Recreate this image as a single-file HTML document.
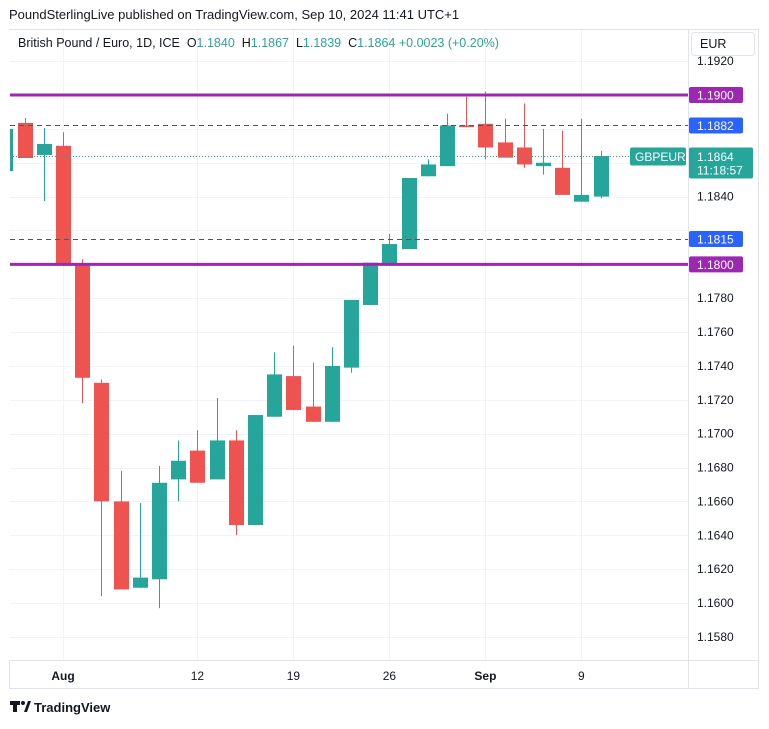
<!DOCTYPE html>
<html><head><meta charset="utf-8"><style>
body{margin:0;background:#fff;font-family:"Liberation Sans",sans-serif;}
svg text{font-family:"Liberation Sans",sans-serif;white-space:pre;}
</style></head><body>
<svg id="c" width="769" height="724" xmlns="http://www.w3.org/2000/svg">
<text x="9" y="19" font-size="13" fill="#131722">PoundSterlingLive published on TradingView.com, Sep 10, 2024 11:41 UTC+1</text>
<rect x="9.5" y="29.5" width="749" height="659" fill="none" stroke="#e0e3eb"/>
<line x1="688.5" y1="30" x2="688.5" y2="688" stroke="#e0e3eb"/>
<line x1="10" y1="660.5" x2="758" y2="660.5" stroke="#e0e3eb"/>
<g id="grid"></g><g id="candles"></g><g id="lines"></g><g id="axis"></g><g id="labels"></g>
<text x="18" y="47" font-size="12.5" fill="#131722">British Pound / Euro, 1D, ICE  O<tspan fill="#26a69a">1.1840</tspan>  H<tspan fill="#26a69a">1.1867</tspan>  L<tspan fill="#26a69a">1.1839</tspan>  C<tspan fill="#26a69a">1.1864</tspan> <tspan fill="#26a69a">+0.0023 (+0.20%)</tspan></text>
<rect x="691.5" y="32.5" width="63" height="23" rx="3" fill="#fff" stroke="#e0e3eb"/>
<text x="700" y="48" font-size="12.5" fill="#131722">EUR</text>
<g><rect x="10" y="701" width="10" height="4" fill="#131722"/><rect x="13" y="701" width="4" height="11" fill="#131722"/><circle cx="23" cy="703" r="2" fill="#131722"/><path d="M24 712 L28 701 L31 701 L27 712Z" fill="#131722"/>
<text x="34" y="712" font-size="13" font-weight="bold" fill="#131722">TradingView</text></g>
</svg>
<script>
const dates=["Jul29","Jul30","Jul31","Aug1","Aug2","Aug5","Aug6","Aug7","Aug8","Aug9","Aug12","Aug13","Aug14","Aug15","Aug16","Aug19","Aug20","Aug21","Aug22","Aug23","Aug26","Aug27","Aug28","Aug29","Aug30","Sep2","Sep3","Sep4","Sep5","Sep6","Sep9","Sep10"];
const opens=[1.1855,1.18835,1.18646,1.1870,1.1800,1.1730,1.1660,1.1609,1.1614,1.1673,1.1690,1.1673,1.1696,1.1646,1.1710,1.1734,1.1716,1.1707,1.1739,1.1776,1.1800,1.1809,1.1852,1.1858,1.1882,1.1883,1.1872,1.1869,1.1858,1.1857,1.1837,1.1840];
const highs=[1.1885,1.18864,1.18805,1.1878,1.1803,1.1732,1.1678,1.1659,1.1681,1.1696,1.1702,1.1721,1.1702,1.1711,1.1748,1.1752,1.1742,1.1751,1.1739,1.1801,1.1818,1.1831,1.1862,1.1889,1.1899,1.1902,1.1886,1.1895,1.1880,1.1879,1.1886,1.1867];
const lows=[1.1850,1.18628,1.18374,1.1799,1.1718,1.1604,1.1608,1.1609,1.1597,1.1660,1.1671,1.1673,1.1640,1.1646,1.1710,1.1714,1.1707,1.1707,1.1736,1.1776,1.1800,1.1809,1.1852,1.1858,1.1881,1.1862,1.1863,1.1857,1.1853,1.1841,1.1837,1.1839];
const closes=[1.1880,1.18628,1.18711,1.1800,1.1733,1.1660,1.1608,1.1615,1.1671,1.1684,1.1671,1.1696,1.1646,1.1711,1.1735,1.1714,1.1707,1.1740,1.1779,1.1801,1.1812,1.1851,1.1859,1.1882,1.1881,1.1869,1.1863,1.1859,1.1860,1.1841,1.1841,1.1864];
const priceTicks=[1.1580,1.1600,1.1620,1.1640,1.1660,1.1680,1.1700,1.1720,1.1740,1.1760,1.1780,1.1800,1.1820,1.1840,1.1860,1.1880,1.1900,1.1920];
const timeLabels=["Aug","12","19","26","Sep","9"];
const timeIdx=[3,10,15,20,25,30];
const levels=[1.1900,1.1800];
const dashedLevels=[1.1882,1.1815];
const lastPrice=1.1864;
const NS="http://www.w3.org/2000/svg";
const y=p=>603-(p-1.16)*16933;
const x=i=>63+(i-3)*19.2;
function el(t,a,parent){const e=document.createElementNS(NS,t);for(const k in a)e.setAttribute(k,a[k]);document.getElementById(parent).appendChild(e);return e;}
const labelPrices=levels.concat(dashedLevels,[lastPrice]);
priceTicks.forEach(p=>{
 if(y(p)>38){const g=el('line',{x1:10,x2:688,y1:Math.round(y(p))+0.5,y2:Math.round(y(p))+0.5,stroke:'#f0f3fa'},'grid');
 
 }
 if(labelPrices.some(q=>Math.abs(y(q)-y(p))<16)) return;
 const t=el('text',{x:697,y:y(p)+4,'font-size':12,fill:'#131722'},'axis');t.textContent=p.toFixed(4);
 
 
});
timeIdx.forEach((ix,k)=>{
 el('line',{x1:Math.round(x(ix))+0.5,x2:Math.round(x(ix))+0.5,y1:30,y2:660,stroke:'#f0f3fa'},'grid');
 const t=el('text',{x:x(ix),y:680,'font-size':12,fill:'#131722','text-anchor':'middle','font-weight':(k==0||k==4)?'bold':'normal'},'axis');t.textContent=timeLabels[k];
 
 
});
dates.forEach((d,i)=>{
 const up=closes[i]>=opens[i];const col=up?'#26a69a':'#ef5350';const cx=Math.round(x(i));
 const w=el('line',{x1:cx+0.5,x2:cx+0.5,y1:y(highs[i]),y2:y(lows[i]),stroke:col},'candles');
 
 
 const top=y(Math.max(opens[i],closes[i])),bot=y(Math.min(opens[i],closes[i]));
 const r=el('rect',{x:cx-7,y:top,width:15,height:Math.max(1,bot-top),fill:col},'candles');
 
 
});
el('rect',{x:0,y:30,width:10,height:630,fill:'#fff'},'candles');
levels.forEach(p=>{
 const l=el('line',{x1:10,x2:688,y1:y(p),y2:y(p),stroke:'#9c27b0','stroke-width':3},'lines');
 
 
 el('rect',{x:689,y:y(p)-8,width:54,height:16,rx:2,fill:'#9c27b0'},'labels');
 const t=el('text',{x:697,y:y(p)+4.5,'font-size':12,fill:'#fff'},'labels');t.textContent=p.toFixed(4);
});
dashedLevels.forEach(p=>{
 const l=el('line',{x1:10,x2:688,y1:Math.round(y(p))+0.5,y2:Math.round(y(p))+0.5,stroke:'#555','stroke-dasharray':'5,4'},'lines');
 
 
 el('rect',{x:689,y:y(p)-8,width:54,height:16,rx:2,fill:'#2962ff'},'labels');
 const t=el('text',{x:697,y:y(p)+4.5,'font-size':12,fill:'#fff'},'labels');t.textContent=p.toFixed(4);
});
const ly=Math.round(y(lastPrice))+0.5;
const dl=el('line',{x1:10,x2:688,y1:ly,y2:ly,stroke:'#26a69a','stroke-dasharray':'1,2'},'lines');


el('rect',{x:630,y:ly-9,width:56,height:18,rx:2,fill:'#26a69a'},'labels');
let t=el('text',{x:635,y:ly+4.5,'font-size':12,fill:'#fff'},'labels');t.textContent='GBPEUR';
el('rect',{x:689,y:ly-9,width:64,height:31,rx:2,fill:'#26a69a'},'labels');
t=el('text',{x:697,y:ly+4.5,'font-size':12,fill:'#fff'},'labels');t.textContent=lastPrice.toFixed(4);
t=el('text',{x:697,y:ly+18,'font-size':12,fill:'#fff'},'labels');t.textContent='11:18:57';
</script>
</body></html>
